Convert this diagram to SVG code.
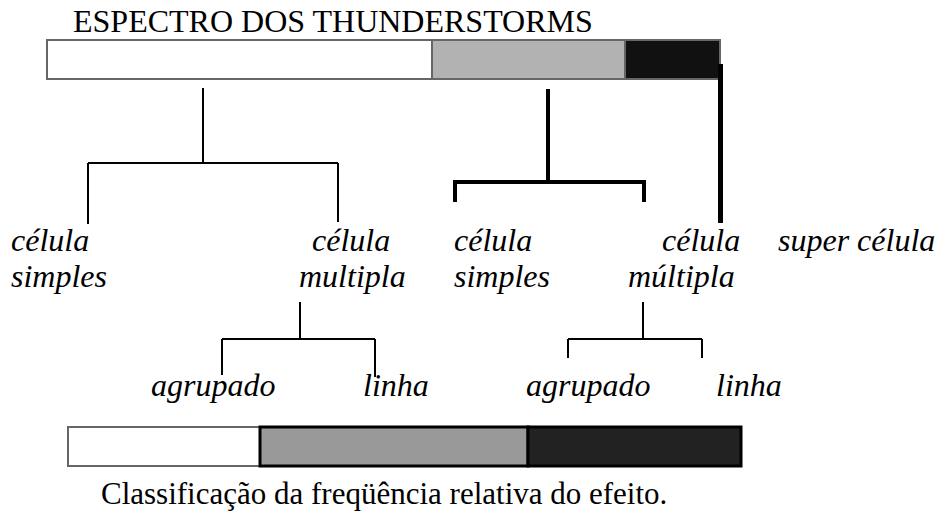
<svg xmlns="http://www.w3.org/2000/svg" width="939" height="516" viewBox="0 0 939 516">
<style>
.t{font-family:"Liberation Serif","Times New Roman",serif;font-size:31px;fill:#000}
.i{font-family:"Liberation Serif","Times New Roman",serif;font-size:32px;font-style:italic;fill:#000}
.c1{stroke:#000;stroke-width:2;fill:none}
.c2{stroke:#000;stroke-width:4;fill:none}
.c3{stroke:#000;stroke-width:5;fill:none}
</style>
<rect width="939" height="516" fill="#fff"/>
<g id="title"><text class="t" x="73" y="32" style="font-size:32px">ESPECTRO DOS THUNDERSTORMS</text></g>
<g id="spectrum-bar">
<rect x="47" y="40" width="385" height="39" fill="#fff" stroke="#666" stroke-width="2"/>
<rect x="432" y="40" width="193" height="39" fill="#b2b2b2" stroke="#666" stroke-width="2"/>
<rect x="625" y="40" width="95" height="39" fill="#111" stroke="#666" stroke-width="2"/>
</g>
<g id="connectors">
<path class="c1" d="M203 88V163M88 163H338M88 163V224M338 163V222"/>
<path class="c2" d="M548 89V182M453 182H644M455 180V202M644 180V202"/>
<path class="c3" d="M720.5 64V223"/>
<path class="c1" d="M300 302V339M222 339H375M222 339V375M375 339V377"/>
<path class="c1" d="M643 302V339M568 339H702M568 339V358M702 339V358"/>
</g>
<g id="n-celula-simples-1"><text class="i" x="11" y="251">célula</text><text class="i" x="11" y="287">simples</text></g>
<g id="n-celula-multipla-1"><text class="i" x="312" y="251">célula</text><text class="i" x="299" y="287">multipla</text></g>
<g id="n-celula-simples-2"><text class="i" x="454" y="251">célula</text><text class="i" x="454" y="287">simples</text></g>
<g id="n-celula-multipla-2"><text class="i" x="662" y="251">célula</text><text class="i" x="628" y="287">múltipla</text></g>
<g id="n-super-celula"><text class="i" x="778" y="251">super célula</text></g>
<g id="n-agrupado-1"><text class="i" x="151" y="396">agrupado</text></g>
<g id="n-linha-1"><text class="i" x="363" y="396">linha</text></g>
<g id="n-agrupado-2"><text class="i" x="526" y="396">agrupado</text></g>
<g id="n-linha-2"><text class="i" x="716" y="396">linha</text></g>
<g id="frequency-bar">
<rect x="68" y="427" width="192" height="39" fill="#fff" stroke="#666" stroke-width="2"/>
<rect x="260" y="427" width="268" height="39" fill="#999" stroke="#000" stroke-width="3"/>
<rect x="528" y="427" width="213" height="39" fill="#222" stroke="#000" stroke-width="3"/>
</g>
<g id="caption"><text class="t" x="101" y="504">Classificação da freqüência relativa do efeito.</text></g>
</svg>
